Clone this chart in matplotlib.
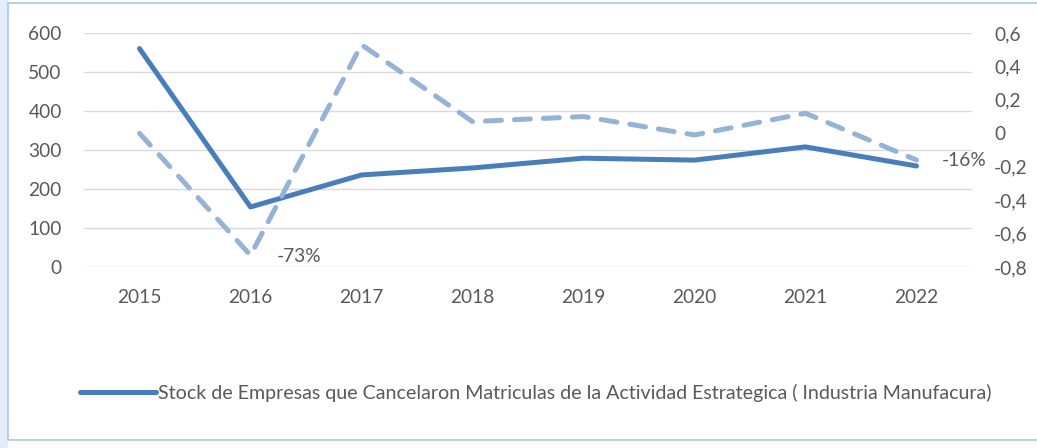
import matplotlib
matplotlib.use("Agg")
import matplotlib.pyplot as plt
from matplotlib.patches import Rectangle
from matplotlib.lines import Line2D

years = ["2015", "2016", "2017", "2018", "2019", "2020", "2021", "2022"]
stock = [560, 154, 236, 254, 279, 274, 308, 259]
growth = [0.0, -0.73, 0.53, 0.07, 0.10, -0.01, 0.12, -0.16]
left_ticks = [0, 100, 200, 300, 400, 500, 600]
right_ticks = [-0.8, -0.6, -0.4, -0.2, 0, 0.2, 0.4, 0.6]
right_labels = ["-0,8", "-0,6", "-0,4", "-0,2", "0", "0,2", "0,4", "0,6"]
legend_label = "Stock de Empresas que Cancelaron Matriculas de la Actividad Estrategica ( Industria Manufacura)"

plt.rcParams['font.family'] = ['Lato', 'DejaVu Sans']
TXT = "#595959"
C1 = "#4A7EBB"
C2 = "#95B3D7"

fig = plt.figure(figsize=(10.37, 4.48), dpi=100)
# left light strip and frame
fig.patches.append(Rectangle((0, 0), 8/1037, 1, transform=fig.transFigure, facecolor="#E1EDF8",
                             edgecolor="none", zorder=-2))
fig.patches.append(Rectangle((8/1037, 8/448), 1 - 8/1037 + 0.01, 1 - 11/448, transform=fig.transFigure,
                             facecolor="white", edgecolor="#A9C8E8", linewidth=1.2, zorder=-1))

ax = fig.add_axes([84/1037, 1 - 267/448, (972 - 84)/1037, (267 - 33)/448])
x = list(range(len(years)))
ax.plot(x, stock, color=C1, linewidth=3.6, solid_capstyle="round", zorder=3)
ax.set_ylim(0, 600)
ax.set_xlim(-0.5, len(years) - 0.5)
ax.set_yticks(left_ticks)
ax.set_xticks(x)
ax.set_xticklabels(years)
ax.grid(axis="y", color="#D9D9D9", linewidth=1)
ax.set_axisbelow(True)
for s in ax.spines.values():
    s.set_visible(False)
ax.tick_params(axis="both", length=0, labelsize=13.8, labelcolor=TXT)
ax.tick_params(axis="y", pad=16)
ax.tick_params(axis="x", pad=16)
ax.patch.set_alpha(0)

ax2 = ax.twinx()
ax2.plot(x, growth, color=C2, linewidth=3.6, dashes=(3.2, 2.6), dash_capstyle="round", zorder=2)
ax2.set_ylim(-0.8, 0.6)
ax2.set_yticks(right_ticks)
ax2.set_yticklabels(right_labels)
for s in ax2.spines.values():
    s.set_visible(False)
ax2.tick_params(axis="y", length=0, labelsize=13.8, labelcolor=TXT, pad=16)

ax2.annotate("-73%", (x[1], growth[1]), xytext=(19, -1), textcoords="offset points",
             ha="left", va="center", fontsize=13.8, color=TXT)
ax2.annotate("-16%", (x[7], growth[7]), xytext=(18, 0), textcoords="offset points",
             ha="left", va="center", fontsize=13.8, color=TXT)

handle = Line2D([], [], color=C1, linewidth=3.6, solid_capstyle="round")
fig.legend([handle], [legend_label], loc="center", bbox_to_anchor=(536/1037, 1 - 393/448),
           frameon=False, fontsize=14.1, handlelength=3.9, handletextpad=0.1, labelcolor=TXT)

fig.savefig("out.png", dpi=100)
